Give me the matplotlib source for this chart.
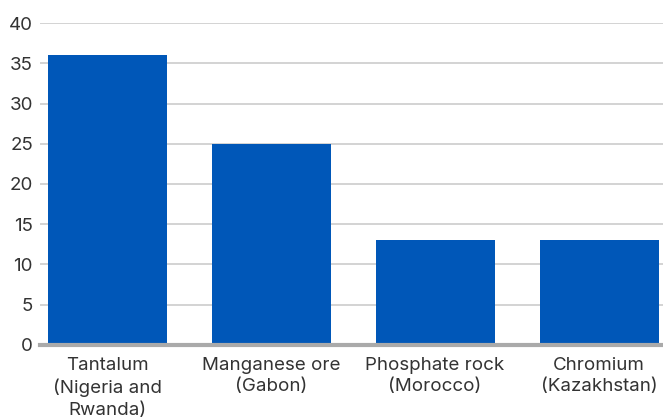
from matplotlib import pyplot as plt
import numpy as np

# Categories and values
categories = [
    'Tantalum\n(Nigeria and\nRwanda)',
    'Manganese ore\n(Gabon)',
    'Phosphate rock\n(Morocco)',
    'Chromium\n(Kazakhstan)',
]
values = [36, 25, 13, 13]
yticks = [0, 5, 10, 15, 20, 25, 30, 35, 40]

plt.rcParams['font.family'] = ['Inter', 'DejaVu Sans']

fig = plt.figure(figsize=[6.63, 4.2], dpi=100)
ax = fig.add_axes([0.0603, 0.179, 0.9397, 0.766])

x = np.arange(len(categories))
ax.bar(x, values, width=0.726, color='#0057b8', zorder=3)

ax.set_xlim(-0.41, 3.39)
ax.set_ylim(0, 40)
ax.set_yticks(yticks)
ax.set_xticks(x)
ax.set_xticklabels(categories, fontsize=13.5, color='#333333', linespacing=1.32)
ax.tick_params(axis='y', labelsize=13.5, labelcolor='#333333', length=0, pad=5)
ax.tick_params(axis='x', length=0, pad=9)

ax.grid(axis='y', color='#cccccc', linewidth=1.2, zorder=0)
for side in ['top', 'right', 'left']:
    ax.spines[side].set_visible(False)
ax.spines['bottom'].set_color('#aaaaaa')
ax.spines['bottom'].set_linewidth(3)
ax.spines['bottom'].set_zorder(4)

plt.savefig('out.png')
